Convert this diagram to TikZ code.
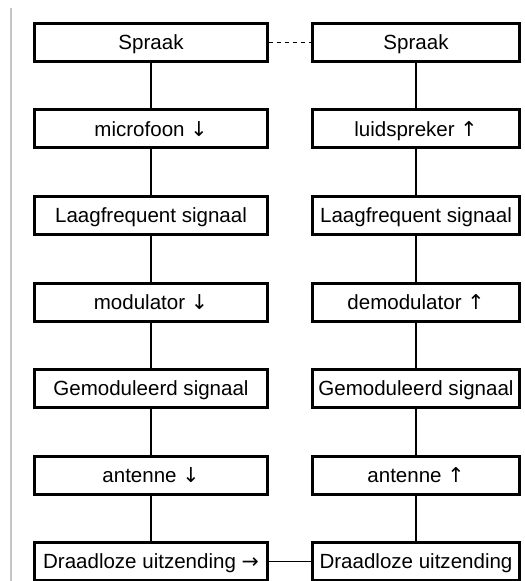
\documentclass[tikz,border=0pt]{standalone}
\usepackage{fontspec}
\setmainfont{Liberation Sans}
\newfontfamily\pijlfont{DejaVu Sans}
\newcommand{\pijl}[1]{{\pijlfont #1}}
\usepackage{tikz}

\tikzset{
  blok/.style={draw=black,line width=2.25pt,minimum height=28.5pt,
    inner sep=0pt,text height=11pt,text depth=0pt,
    font=\fontsize{15.4}{18}\selectfont},
  links/.style={blok,minimum width=174.75pt},
  rechts/.style={blok,minimum width=155.7pt},
  lijn/.style={line width=0.9pt}
}

\begin{document}
\begin{tikzpicture}[x=0.75pt,y=-0.75pt]
  \useasboundingbox (0,0) rectangle (524,581);
  % grijze kantlijn
  \draw[line width=1.1pt,gray!45] (11,8) -- (11,581);

  % zender
  \node[links] (z1) at (151,42.5)  {Spraak};
  \node[links] (z2) at (151,129)   {microfoon \pijl{↓}};
  \node[links] (z3) at (151,215.5) {Laagfrequent signaal};
  \node[links] (z4) at (151,302)   {modulator \pijl{↓}};
  \node[links] (z5) at (151,388.5) {Gemoduleerd signaal};
  \node[links] (z6) at (151,475)   {antenne \pijl{↓}};
  \node[links] (z7) at (151,561.5) {Draadloze uitzending \pijl{→}};

  % ontvanger
  \node[rechts] (o1) at (416,42.5)  {Spraak};
  \node[rechts] (o2) at (416,129)   {luidspreker \pijl{↑}};
  \node[rechts] (o3) at (416,215.5) {Laagfrequent signaal};
  \node[rechts] (o4) at (416,302)   {demodulator \pijl{↑}};
  \node[rechts] (o5) at (416,388.5) {Gemoduleerd signaal};
  \node[rechts] (o6) at (416,475)   {antenne \pijl{↑}};
  \node[rechts] (o7) at (416,561.5) {Draadloze uitzending};

  \draw[lijn] (z1) -- (z2);
  \draw[lijn] (z2) -- (z3);
  \draw[lijn] (z3) -- (z4);
  \draw[lijn] (z4) -- (z5);
  \draw[lijn] (z5) -- (z6);
  \draw[lijn] (z6) -- (z7);

  \draw[lijn] (o1) -- (o2);
  \draw[lijn] (o2) -- (o3);
  \draw[lijn] (o3) -- (o4);
  \draw[lijn] (o4) -- (o5);
  \draw[lijn] (o5) -- (o6);
  \draw[lijn] (o6) -- (o7);

  \draw[lijn,dashed] (z1) -- (o1);
  \draw[lijn] (z7) -- (o7);
\end{tikzpicture}
\end{document}
